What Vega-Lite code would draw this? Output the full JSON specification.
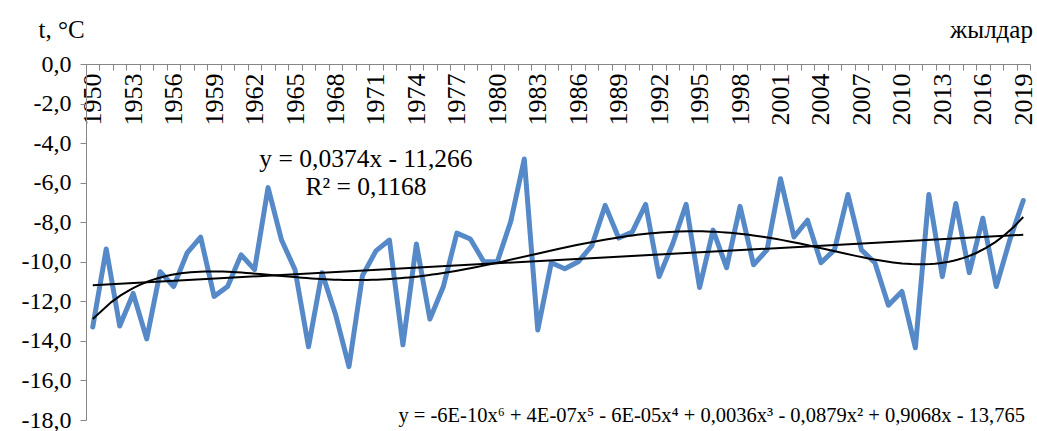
{
  "$schema": "https://vega.github.io/schema/vega-lite/v6.json",
  "autosize": {"type": "none"},
  "width": 944,
  "height": 356,
  "padding": {"left": 86, "top": 64, "right": 7, "bottom": 11},
  "background": "white",
  "config": {
    "view": {"stroke": null},
    "font": "Liberation Serif",
    "locale": {"number": {"decimal": ",", "thousands": " ", "grouping": [3], "currency": ["", ""], "minus": "-"}},
    "style": {
      "guide-label": {"font": "Liberation Serif", "fill": "black"},
      "guide-title": {"font": "Liberation Serif", "fill": "black", "fontWeight": "normal"}
    },
    "axis": {
      "labelFont": "Liberation Serif", "labelColor": "black", "labelOverlap": false, "labelFlush": false, "labelBound": false,
      "titleFont": "Liberation Serif", "titleFontWeight": "normal", "titleColor": "black", "titleFontSize": 25,
      "tickColor": "#868686", "tickSize": 6, "domainColor": "#868686", "grid": false, "ticks": true
    }
  },
  "datasets": {
    "temps": [
      {"year": 1950, "t": -13.3}, {"year": 1951, "t": -9.35}, {"year": 1952, "t": -13.25}, {"year": 1953, "t": -11.6},
      {"year": 1954, "t": -13.9}, {"year": 1955, "t": -10.5}, {"year": 1956, "t": -11.25}, {"year": 1957, "t": -9.55},
      {"year": 1958, "t": -8.75}, {"year": 1959, "t": -11.75}, {"year": 1960, "t": -11.25}, {"year": 1961, "t": -9.65},
      {"year": 1962, "t": -10.4}, {"year": 1963, "t": -6.25}, {"year": 1964, "t": -8.9}, {"year": 1965, "t": -10.4},
      {"year": 1966, "t": -14.3}, {"year": 1967, "t": -10.55}, {"year": 1968, "t": -12.65}, {"year": 1969, "t": -15.3},
      {"year": 1970, "t": -10.7}, {"year": 1971, "t": -9.45}, {"year": 1972, "t": -8.9}, {"year": 1973, "t": -14.2},
      {"year": 1974, "t": -9.1}, {"year": 1975, "t": -12.9}, {"year": 1976, "t": -11.25}, {"year": 1977, "t": -8.55},
      {"year": 1978, "t": -8.85}, {"year": 1979, "t": -10.0}, {"year": 1980, "t": -10.0}, {"year": 1981, "t": -7.95},
      {"year": 1982, "t": -4.8}, {"year": 1983, "t": -13.45}, {"year": 1984, "t": -10.05}, {"year": 1985, "t": -10.35},
      {"year": 1986, "t": -10.0}, {"year": 1987, "t": -9.2}, {"year": 1988, "t": -7.15}, {"year": 1989, "t": -8.8},
      {"year": 1990, "t": -8.5}, {"year": 1991, "t": -7.1}, {"year": 1992, "t": -10.75}, {"year": 1993, "t": -9.1},
      {"year": 1994, "t": -7.1}, {"year": 1995, "t": -11.3}, {"year": 1996, "t": -8.4}, {"year": 1997, "t": -10.3},
      {"year": 1998, "t": -7.2}, {"year": 1999, "t": -10.15}, {"year": 2000, "t": -9.4}, {"year": 2001, "t": -5.8},
      {"year": 2002, "t": -8.75}, {"year": 2003, "t": -7.9}, {"year": 2004, "t": -10.05}, {"year": 2005, "t": -9.4},
      {"year": 2006, "t": -6.6}, {"year": 2007, "t": -9.4}, {"year": 2008, "t": -10.05}, {"year": 2009, "t": -12.2},
      {"year": 2010, "t": -11.5}, {"year": 2011, "t": -14.35}, {"year": 2012, "t": -6.6}, {"year": 2013, "t": -10.75},
      {"year": 2014, "t": -7.05}, {"year": 2015, "t": -10.55}, {"year": 2016, "t": -7.8}, {"year": 2017, "t": -11.25},
      {"year": 2018, "t": -8.9}, {"year": 2019, "t": -6.9}
    ],
    "eqLinear": [
      {"year": 1970.26, "t": -5.21, "label": "y = 0,0374x - 11,266"},
      {"year": 1970.26, "t": -6.62, "label": "R² = 0,1168"}
    ],
    "eqPoly": [
      {"year": 2019.13, "t": -18.1, "label": "y = -6E-10x⁶ + 4E-07x⁵ - 6E-05x⁴ + 0,0036x³ - 0,0879x² + 0,9068x - 13,765"}
    ]
  },
  "encoding": {
    "x": {
      "field": "year", "type": "quantitative",
      "scale": {"domain": [1949.5, 2019.5], "nice": false, "zero": false},
      "axis": {
        "orient": "bottom", "offset": -356,
        "values": [1949.5,1950.5,1951.5,1952.5,1953.5,1954.5,1955.5,1956.5,1957.5,1958.5,1959.5,1960.5,1961.5,1962.5,1963.5,1964.5,1965.5,1966.5,1967.5,1968.5,1969.5,1970.5,1971.5,1972.5,1973.5,1974.5,1975.5,1976.5,1977.5,1978.5,1979.5,1980.5,1981.5,1982.5,1983.5,1984.5,1985.5,1986.5,1987.5,1988.5,1989.5,1990.5,1991.5,1992.5,1993.5,1994.5,1995.5,1996.5,1997.5,1998.5,1999.5,2000.5,2001.5,2002.5,2003.5,2004.5,2005.5,2006.5,2007.5,2008.5,2009.5,2010.5,2011.5,2012.5,2013.5,2014.5,2015.5,2016.5,2017.5,2018.5,2019.5],
        "labelExpr": "(datum.value < 2019.4 && (datum.value + 0.5 - 1950) % 3 == 0) ? toString(datum.value + 0.5) : ''",
        "labelAngle": -90, "labelOffset": 6.74, "labelPadding": 3,
        "labelFont": "Liberation Serif", "labelFontSize": 26, "labelColor": "black",
        "labelFlush": false, "labelOverlap": false, "labelBound": false,
        "tickColor": "#868686", "tickSize": 6, "domainColor": "#868686", "grid": false,
        "title": "жылдар", "titleFont": "Liberation Serif", "titleFontSize": 25, "titleFontWeight": "normal",
        "titleColor": "black", "titleX": 905, "titleY": -27, "titleAlign": "center", "titleBaseline": "alphabetic"
      }
    },
    "y": {
      "field": "t", "type": "quantitative",
      "scale": {"domain": [-18, 0], "nice": false, "zero": false},
      "axis": {
        "values": [0, -2, -4, -6, -8, -10, -12, -14, -16, -18],
        "format": ".1f",
        "labelFont": "Liberation Serif", "labelFontSize": 24, "labelColor": "black", "labelPadding": 9,
        "labelFlush": false, "labelOverlap": false,
        "tickColor": "#868686", "tickSize": 6, "domainColor": "#868686", "grid": false,
        "title": "t, °C", "titleFont": "Liberation Serif", "titleFontSize": 25, "titleFontWeight": "normal",
        "titleColor": "black", "titleAngle": 0, "titleX": -25, "titleY": -27, "titleAlign": "center", "titleBaseline": "alphabetic"
      }
    }
  },
  "layer": [
    {
      "data": {"name": "temps"},
      "mark": {"type": "line", "color": "#5689C7", "strokeWidth": 5, "strokeJoin": "round", "strokeCap": "round"}
    },
    {
      "data": {"name": "temps"},
      "transform": [{"regression": "t", "on": "year", "method": "linear"}],
      "mark": {"type": "line", "color": "black", "strokeWidth": 2}
    },
    {
      "data": {"name": "temps"},
      "transform": [{"regression": "t", "on": "year", "method": "poly", "order": 6}],
      "mark": {"type": "line", "color": "black", "strokeWidth": 2}
    },
    {
      "data": {"name": "eqLinear"},
      "mark": {"type": "text", "font": "Liberation Serif", "fontSize": 25.5, "align": "center", "baseline": "alphabetic", "color": "black"},
      "encoding": {"text": {"field": "label"}}
    },
    {
      "data": {"name": "eqPoly"},
      "mark": {"type": "text", "font": "Liberation Serif", "fontSize": 20.5, "align": "right", "baseline": "alphabetic", "color": "black"},
      "encoding": {"text": {"field": "label"}}
    }
  ]
}
